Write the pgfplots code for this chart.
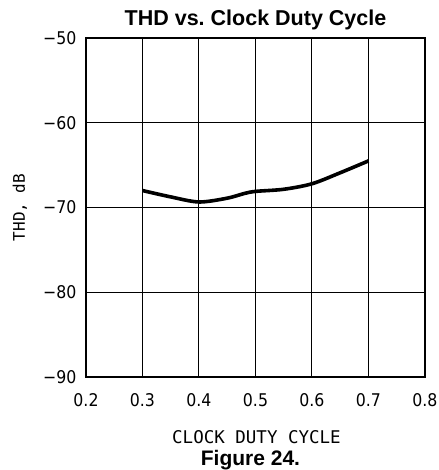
\documentclass[border=0pt]{standalone}
\usepackage{pgfplots}
\pgfplotsset{compat=1.18}
\usepackage{fontspec}
\setmainfont{Liberation Sans}
\newfontfamily\tickfont{DejaVu Sans Condensed}
\newfontfamily\labfont{DejaVu Sans Mono}
\begin{document}
\begin{tikzpicture}
\path[use as bounding box] (-86pt,-93pt) rectangle (352pt,377pt);
\begin{axis}[
  at={(0pt,0pt)}, anchor=south west,
  scale only axis, width=339pt, height=339pt,
  xmin=0.2, xmax=0.8, ymin=-90, ymax=-50,
  xtick={0.2,0.3,0.4,0.5,0.6,0.7,0.8},
  xticklabels={0.2,0.3,0.4,0.5,0.6,0.7,0.8},
  ytick={-90,-80,-70,-60,-50},
  yticklabels={−90,−80,−70,−60,−50},
  grid=major,
  major grid style={black, line width=1pt},
  axis line style={line width=1.4pt},
  tick style={draw=none},
  xticklabel style={font=\fontsize{17.5}{17.5}\tickfont, anchor=base, yshift=-29pt},
  yticklabel style={font=\fontsize{17.5}{17.5}\tickfont, anchor=east, xshift=-6pt},
  clip=false,
]
\addplot[black, line width=3.6pt, smooth, tension=0.5] coordinates {
(0.30,-68.0) (0.35,-68.75) (0.40,-69.35) (0.45,-68.9) (0.48,-68.35)
(0.50,-68.1) (0.55,-67.85) (0.60,-67.2) (0.65,-65.9) (0.70,-64.5)
};
\node[anchor=base, font=\bfseries\fontsize{21.5}{21.5}\selectfont] at (rel axis cs:0.5,1) [yshift=12pt] {THD vs.\ Clock Duty Cycle};
\node[anchor=base, font=\fontsize{17.5}{17.5}\labfont] at (rel axis cs:0.5,0) [yshift=-66pt, xshift=1pt] {CLOCK DUTY CYCLE};
\node[anchor=base, font=\bfseries\fontsize{21}{21}\selectfont] at (rel axis cs:0.5,0) [yshift=-88pt, xshift=-5pt] {Figure 24.};
\node[rotate=90, anchor=base, font=\fontsize{16}{16}\labfont] at (rel axis cs:-0.18,0.5) {THD, dB};
\end{axis}
\end{tikzpicture}
\end{document}
